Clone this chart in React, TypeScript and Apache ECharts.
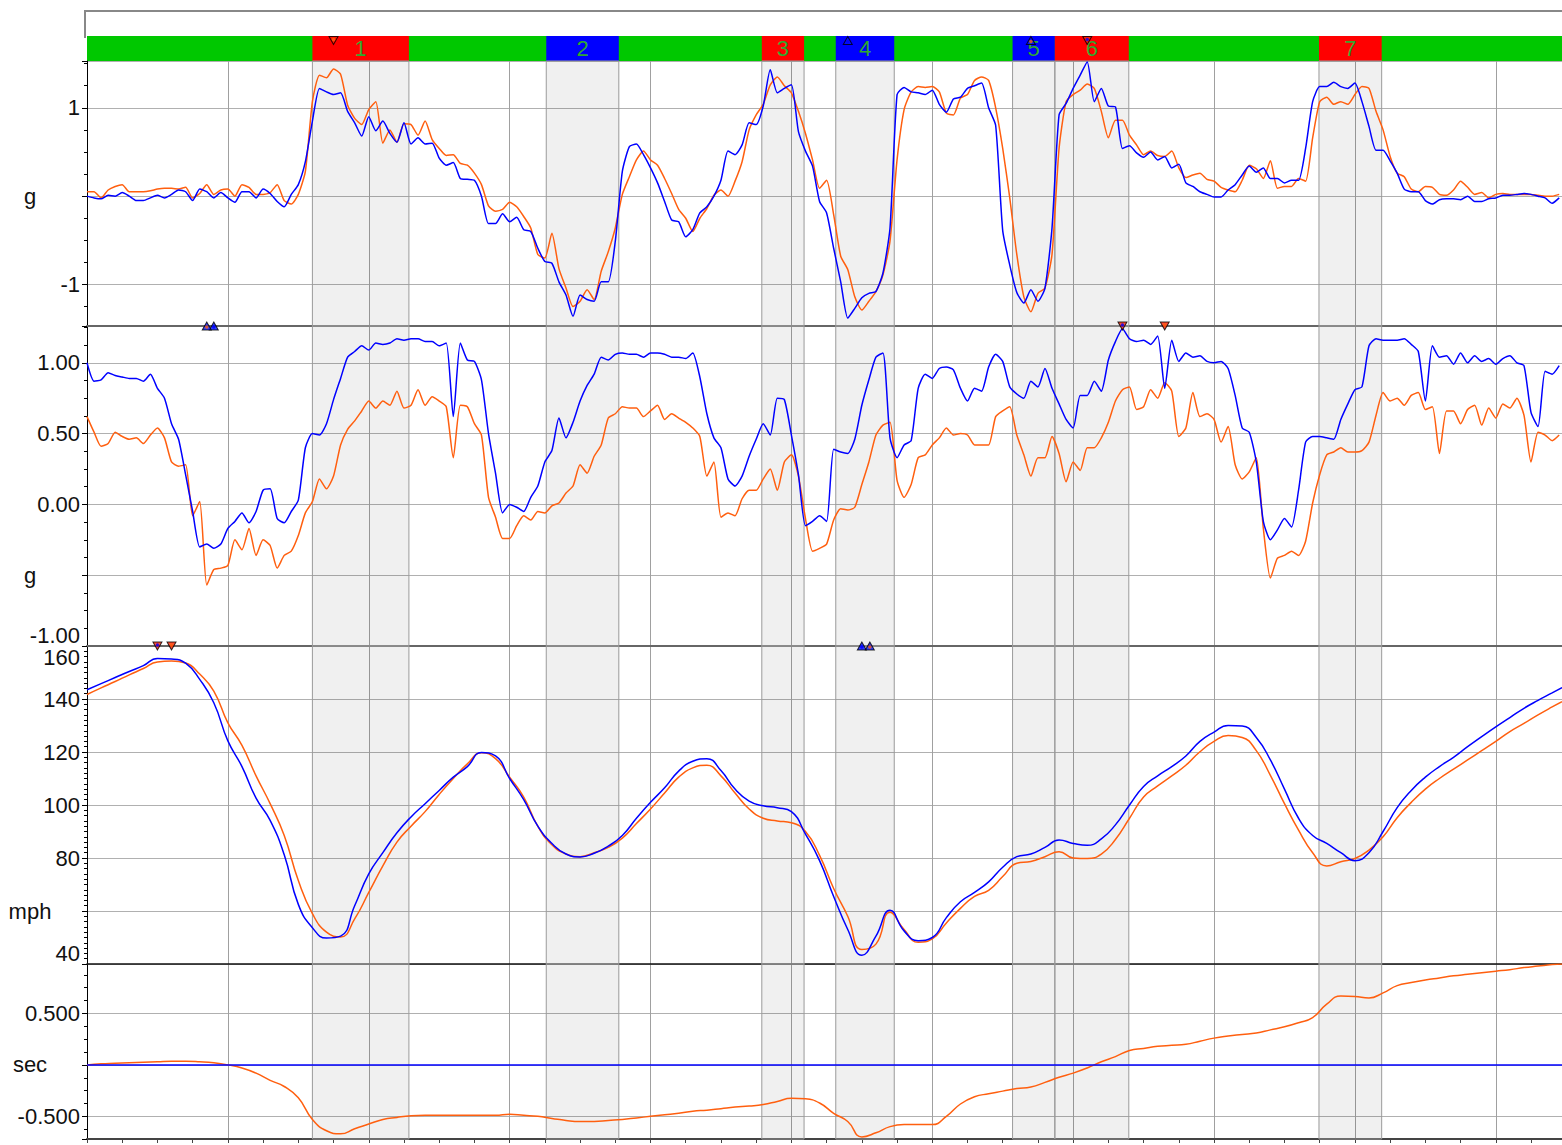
import React, { useEffect, useRef } from "react";
import * as echarts from "echarts";

// ---------- distances (m) ----------
const TRACK_LENGTH = 1047;
const DIST_FINE: number[] = Array.from({ length: 210 }, (_, i) => i * 5);
const DIST_COARSE: number[] = [...Array.from({ length: 105 }, (_, i) => i * 10), 1047];

// ---------- segment bar ----------
const SEGMENT_LABELS = ["1", "2", "3", "4", "5", "6", "7"];
const SEGMENT_START = [160, 326, 479, 531.5, 657, 687, 874.5];
const SEGMENT_END = [228.5, 377.5, 509, 573, 687, 739.5, 919];
const SEGMENT_KIND = ["brake", "corner", "brake", "corner", "corner", "brake", "brake"];

// ---------- panel 1: lateral g ----------
const LAT_G_BLUE = [
  0.00, -0.02, -0.03, 0.01, 0.00, 0.04, 0.00, -0.05, -0.05, -0.02,
  0.01, -0.02, 0.02, 0.07, 0.05, -0.05, 0.08, 0.05, -0.02, 0.04,
  -0.02, -0.07, 0.05, 0.05, -0.02, 0.08, 0.03, -0.06, -0.12, 0.02,
  0.13, 0.39, 0.85, 1.22, 1.18, 1.15, 1.17, 0.96, 0.83, 0.68,
  0.90, 0.74, 0.85, 0.71, 0.61, 0.83, 0.59, 0.66, 0.59, 0.60,
  0.43, 0.35, 0.38, 0.20, 0.19, 0.18, 0.00, -0.31, -0.31, -0.20,
  -0.29, -0.24, -0.38, -0.40, -0.59, -0.74, -0.76, -0.97, -1.12, -1.36,
  -1.12, -1.17, -1.19, -0.97, -0.97, -0.51, 0.28, 0.56, 0.59, 0.47,
  0.32, 0.15, -0.06, -0.27, -0.29, -0.46, -0.38, -0.19, -0.12, 0.00,
  0.18, 0.51, 0.47, 0.58, 0.83, 0.81, 1.02, 1.43, 1.17, 1.22,
  1.26, 0.73, 0.51, 0.34, -0.06, -0.19, -0.59, -0.97, -1.38, -1.27,
  -1.15, -1.10, -1.08, -0.87, -0.36, 1.15, 1.23, 1.18, 1.17, 1.15,
  1.20, 1.04, 0.95, 1.10, 1.12, 1.22, 1.25, 1.28, 1.00, 0.80,
  -0.39, -0.78, -1.09, -1.21, -1.06, -1.19, -1.04, -0.36, 0.92, 1.05,
  1.22, 1.37, 1.52, 1.07, 1.22, 1.02, 1.01, 0.54, 0.57, 0.49,
  0.44, 0.50, 0.41, 0.45, 0.32, 0.36, 0.15, 0.11, 0.05, 0.02,
  -0.01, -0.01, 0.07, 0.13, 0.24, 0.34, 0.27, 0.32, 0.20, 0.20,
  0.15, 0.18, 0.18, 0.54, 1.07, 1.24, 1.24, 1.29, 1.24, 1.22,
  1.28, 1.07, 0.79, 0.52, 0.52, 0.40, 0.26, 0.08, 0.05, 0.05,
  -0.05, -0.09, -0.04, -0.03, -0.03, -0.04, 0.00, -0.06, -0.06, -0.03,
  -0.02, 0.01, 0.01, 0.02, 0.03, 0.02, 0.00, -0.02, -0.08, -0.02,
];
const LAT_G_ORANGE = [
  0.05, 0.05, -0.02, 0.07, 0.11, 0.13, 0.05, 0.05, 0.05, 0.06,
  0.08, 0.09, 0.09, 0.08, 0.10, -0.02, 0.03, 0.13, 0.02, 0.07,
  0.08, 0.00, 0.13, 0.10, 0.02, 0.02, 0.04, 0.13, -0.05, -0.09,
  0.02, 0.28, 1.07, 1.37, 1.34, 1.44, 1.38, 1.03, 0.88, 0.81,
  0.98, 1.07, 0.60, 0.75, 0.61, 0.82, 0.81, 0.69, 0.85, 0.64,
  0.54, 0.46, 0.47, 0.37, 0.35, 0.26, 0.13, -0.11, -0.17, -0.15,
  -0.07, -0.12, -0.23, -0.36, -0.66, -0.70, -0.42, -0.82, -1.04, -1.25,
  -1.19, -1.06, -1.17, -0.85, -0.63, -0.36, 0.02, 0.22, 0.41, 0.51,
  0.41, 0.35, 0.20, 0.03, -0.15, -0.25, -0.40, -0.25, -0.14, 0.01,
  0.07, 0.00, 0.17, 0.39, 0.75, 0.92, 1.04, 1.26, 1.35, 1.25,
  1.17, 0.96, 0.71, 0.41, 0.09, 0.18, -0.21, -0.68, -0.83, -1.14,
  -1.29, -1.19, -1.08, -0.89, -0.51, 0.41, 0.98, 1.18, 1.24, 1.23,
  1.24, 1.18, 0.94, 0.92, 1.11, 1.15, 1.31, 1.35, 1.31, 1.00,
  0.54, -0.02, -0.66, -1.14, -1.31, -1.10, -1.04, -0.66, 0.54, 1.07,
  1.15, 1.20, 1.27, 1.22, 0.96, 0.66, 0.86, 0.86, 0.69, 0.58,
  0.47, 0.51, 0.46, 0.45, 0.51, 0.32, 0.21, 0.24, 0.26, 0.19,
  0.17, 0.10, 0.07, 0.05, 0.18, 0.35, 0.31, 0.20, 0.40, 0.09,
  0.11, 0.11, 0.20, 0.17, 0.66, 1.07, 1.12, 1.04, 1.07, 1.04,
  1.15, 1.24, 1.22, 0.96, 0.75, 0.45, 0.26, 0.22, 0.08, 0.05,
  0.11, 0.10, 0.02, 0.01, 0.07, 0.17, 0.10, 0.02, 0.04, -0.02,
  0.02, 0.03, 0.02, 0.02, 0.02, 0.02, 0.01, 0.00, 0.00, 0.02,
];

// ---------- panel 2: longitudinal g ----------
const LONG_G_BLUE = [
  1.00, 0.87, 0.88, 0.93, 0.91, 0.90, 0.89, 0.89, 0.87, 0.92,
  0.82, 0.75, 0.57, 0.46, 0.21, -0.05, -0.30, -0.28, -0.31, -0.28,
  -0.17, -0.12, -0.06, -0.13, -0.05, 0.10, 0.11, -0.10, -0.13, -0.05,
  0.03, 0.40, 0.50, 0.49, 0.57, 0.74, 0.89, 1.04, 1.08, 1.12,
  1.09, 1.14, 1.13, 1.14, 1.17, 1.16, 1.17, 1.17, 1.15, 1.15,
  1.12, 1.14, 0.62, 1.14, 1.02, 1.01, 0.88, 0.50, 0.22, -0.06,
  0.00, -0.02, -0.05, 0.05, 0.13, 0.30, 0.38, 0.61, 0.47, 0.58,
  0.73, 0.84, 0.92, 1.04, 1.02, 1.06, 1.07, 1.06, 1.06, 1.04,
  1.07, 1.07, 1.06, 1.04, 1.04, 1.03, 1.07, 0.90, 0.64, 0.47,
  0.40, 0.18, 0.13, 0.20, 0.34, 0.46, 0.57, 0.49, 0.75, 0.74,
  0.49, 0.21, -0.15, -0.12, -0.08, -0.12, 0.39, 0.37, 0.36, 0.46,
  0.70, 0.88, 1.04, 1.07, 0.47, 0.33, 0.42, 0.45, 0.82, 0.92,
  0.89, 0.96, 0.97, 0.95, 0.82, 0.73, 0.82, 0.80, 0.97, 1.06,
  1.01, 0.83, 0.78, 0.75, 0.87, 0.83, 0.96, 0.82, 0.71, 0.60,
  0.54, 0.77, 0.77, 0.87, 0.80, 1.02, 1.15, 1.24, 1.17, 1.15,
  1.16, 1.13, 1.19, 0.82, 1.16, 1.01, 1.07, 1.04, 1.05, 1.01,
  1.00, 1.01, 0.96, 0.77, 0.54, 0.51, 0.30, -0.12, -0.25, -0.18,
  -0.10, -0.16, 0.10, 0.44, 0.48, 0.48, 0.47, 0.46, 0.60, 0.71,
  0.81, 0.83, 1.12, 1.17, 1.16, 1.16, 1.16, 1.17, 1.13, 1.08,
  0.73, 1.12, 1.04, 1.05, 0.99, 1.07, 1.00, 1.05, 1.01, 1.03,
  0.99, 1.03, 1.05, 1.00, 0.98, 0.65, 0.55, 0.94, 0.92, 0.98,
];
const LONG_G_ORANGE = [
  0.62, 0.51, 0.41, 0.43, 0.51, 0.48, 0.46, 0.47, 0.43, 0.49,
  0.54, 0.47, 0.30, 0.27, 0.28, -0.08, 0.02, -0.57, -0.46, -0.45,
  -0.43, -0.25, -0.32, -0.17, -0.36, -0.25, -0.29, -0.45, -0.36, -0.33,
  -0.22, -0.06, 0.02, 0.18, 0.11, 0.20, 0.42, 0.53, 0.59, 0.66,
  0.73, 0.68, 0.73, 0.70, 0.80, 0.68, 0.70, 0.81, 0.70, 0.76,
  0.73, 0.69, 0.33, 0.70, 0.69, 0.57, 0.49, 0.05, -0.09, -0.24,
  -0.24, -0.15, -0.08, -0.11, -0.05, -0.06, -0.01, 0.01, 0.08, 0.13,
  0.28, 0.22, 0.34, 0.42, 0.61, 0.64, 0.69, 0.68, 0.68, 0.62,
  0.66, 0.70, 0.60, 0.64, 0.61, 0.58, 0.54, 0.48, 0.20, 0.30,
  -0.09, -0.06, -0.08, 0.04, 0.10, 0.10, 0.18, 0.25, 0.10, 0.30,
  0.35, 0.20, -0.10, -0.33, -0.31, -0.28, -0.11, -0.03, -0.04, -0.02,
  0.14, 0.30, 0.49, 0.56, 0.58, 0.17, 0.05, 0.14, 0.33, 0.35,
  0.42, 0.47, 0.54, 0.49, 0.50, 0.49, 0.42, 0.42, 0.42, 0.62,
  0.66, 0.69, 0.49, 0.35, 0.20, 0.33, 0.33, 0.48, 0.36, 0.16,
  0.30, 0.24, 0.40, 0.40, 0.47, 0.58, 0.73, 0.81, 0.83, 0.67,
  0.69, 0.81, 0.75, 0.86, 0.80, 0.48, 0.54, 0.79, 0.62, 0.64,
  0.60, 0.44, 0.55, 0.28, 0.18, 0.23, 0.33, -0.17, -0.52, -0.38,
  -0.36, -0.33, -0.36, -0.26, 0.01, 0.21, 0.35, 0.37, 0.40, 0.37,
  0.37, 0.38, 0.44, 0.63, 0.79, 0.73, 0.75, 0.70, 0.77, 0.79,
  0.67, 0.69, 0.36, 0.66, 0.66, 0.57, 0.67, 0.70, 0.56, 0.68,
  0.61, 0.71, 0.68, 0.75, 0.63, 0.30, 0.51, 0.49, 0.45, 0.49,
];

// ---------- panel 3: speed (mph) ----------
const SPEED_BLUE = [
  143.5, 145.8, 148.1, 150.4, 152.6, 155.3, 155.1, 153.5, 147.4, 138.6,
  124.2, 114.5, 102.6, 94.2, 81.2, 62.5, 53.7, 49.8, 50.5, 62.0,
  74.0, 82.0, 89.5, 95.5, 100.5, 105.5, 110.5, 114.5, 119.8, 118.5,
  110.0, 102.0, 92.0, 85.5, 81.5, 80.4, 81.8, 84.5, 88.5, 95.0,
  101.0, 106.5, 112.8, 116.5, 117.5, 113.0, 106.0, 101.5, 99.7, 99.0,
  97.5, 89.0, 79.0, 65.5, 53.0, 43.3, 50.5, 60.3, 52.5, 48.8,
  50.0, 57.5, 63.5, 67.0, 71.0, 76.5, 80.5, 81.5, 84.0, 86.8,
  85.5, 84.8, 87.2, 92.5, 100.0, 107.0, 111.0, 114.5, 118.5, 124.0,
  127.5, 130.0, 129.8, 125.5, 117.0, 106.0, 95.0, 88.5, 85.5, 82.0,
  79.0, 82.0, 90.0, 99.0, 105.5, 110.5, 114.5, 118.0, 122.0, 125.8,
  129.5, 133.0, 136.5, 139.5, 142.3, 144.3,
];
const SPEED_ORANGE = [
  141.7, 144.2, 146.6, 149.1, 151.5, 154.0, 154.3, 153.6, 149.4, 143.0,
  131.0, 122.5, 111.0, 100.5, 88.5, 71.5, 59.0, 52.0, 50.2, 57.0,
  67.0, 77.0, 86.0, 92.0, 97.5, 104.0, 110.0, 115.5, 119.7, 117.5,
  110.5, 103.0, 92.0, 85.0, 81.5, 80.5, 82.0, 84.0, 87.5, 93.0,
  98.5, 104.5, 110.5, 114.0, 115.0, 111.0, 104.5, 98.5, 95.0, 94.0,
  93.3, 90.0, 81.0, 68.5, 58.0, 45.5, 47.5, 59.5, 53.0, 48.2,
  49.5, 55.5, 61.0, 65.5, 67.8, 73.0, 78.0, 78.7, 80.5, 82.4,
  80.0, 79.8, 81.5, 87.0, 95.0, 103.0, 107.2, 111.0, 115.0, 120.1,
  124.0, 126.2, 125.5, 120.5, 111.2, 100.5, 90.5, 82.0, 77.0, 78.6,
  79.8, 83.0, 88.0, 95.2, 101.0, 106.0, 110.0, 113.5, 117.0, 120.5,
  124.0, 127.7, 130.8, 134.0, 137.0, 139.0,
];

// ---------- panel 4: time delta (sec) ----------
const DELTA_BLUE_DIST = [0, 1047];
const DELTA_BLUE = [0, 0];
const DELTA_ORANGE = [
  0.00, 0.01, 0.015, 0.02, 0.025, 0.03, 0.035, 0.035, 0.03, 0.02,
  0.00, -0.03, -0.08, -0.15, -0.21, -0.32, -0.53, -0.64, -0.67, -0.62,
  -0.575, -0.53, -0.51, -0.495, -0.49, -0.49, -0.49, -0.49, -0.49, -0.49,
  -0.48, -0.49, -0.50, -0.52, -0.54, -0.55, -0.55, -0.54, -0.53, -0.515,
  -0.50, -0.485, -0.47, -0.45, -0.44, -0.425, -0.41, -0.40, -0.385, -0.355,
  -0.325, -0.33, -0.37, -0.47, -0.55, -0.70, -0.66, -0.60, -0.58, -0.58,
  -0.58, -0.50, -0.38, -0.31, -0.28, -0.255, -0.23, -0.215, -0.17, -0.12,
  -0.08, -0.03, 0.03, 0.08, 0.14, 0.16, 0.18, 0.19, 0.20, 0.23,
  0.26, 0.28, 0.295, 0.31, 0.34, 0.37, 0.41, 0.46, 0.59, 0.67,
  0.665, 0.65, 0.70, 0.77, 0.80, 0.825, 0.845, 0.865, 0.88, 0.895,
  0.91, 0.925, 0.945, 0.96, 0.975, 0.98,
];

// ---------- styling ----------
const BLUE = "#0000ff";
const ORANGE = "#ff5f0f";
const FONT = "'Liberation Sans', Arial, Helvetica, sans-serif";
const LABEL_SIZE = 22;

const zip = (xs: number[], ys: number[]) => ys.map((y, i) => [xs[i], y]);

function argExt(arr: number[], dir: number) {
  let idx = 0;
  for (let i = 1; i < arr.length; i++) {
    if (dir > 0 ? arr[i] > arr[idx] : arr[i] < arr[idx]) idx = i;
  }
  return idx;
}

function makeYAxis(
  gridIndex: number, min: number, max: number, step: number, minorSplit: number,
  digits: number, unitValue: number, unit: string, extraLabel: any = {}
) {
  return {
    type: "value", gridIndex, min, max,
    minInterval: step, maxInterval: step, splitNumber: Math.max(1, Math.round((max - min) / step)),
    axisLine: { show: true, onZero: false, lineStyle: { color: "#000", width: 1 } },
    axisTick: { show: true, length: 5, lineStyle: { color: "#000" } },
    minorTick: { show: true, splitNumber: minorSplit, length: 3, lineStyle: { color: "#000" } },
    splitLine: { show: true, lineStyle: { color: "#b0b0b0", width: 1 } },
    axisLabel: {
      show: true, margin: 7, color: "#111", fontSize: LABEL_SIZE, fontFamily: FONT,
      formatter: (v: number) => {
        if (Math.abs(v - unitValue) < 1e-9) return `{u|${unit}}`;
        const r = v / step;
        if (Math.abs(r - Math.round(r)) > 1e-6) return "";
        return v.toFixed(digits);
      },
      rich: { u: { width: 100, align: "center", fontSize: LABEL_SIZE, fontFamily: FONT, color: "#111" } },
      ...extraLabel,
    },
  };
}

function makeXAxis(gridIndex: number, lineColor: string, lineWidth: number, ticks: boolean, show = true) {
  return {
    type: "value", gridIndex, min: 0, max: TRACK_LENGTH, interval: 100, show,
    axisLine: { show: true, onZero: false, lineStyle: { color: lineColor, width: lineWidth } },
    axisTick: { show: ticks, length: 4, lineStyle: { color: "#444" } },
    minorTick: { show: ticks, splitNumber: 4, length: 4, lineStyle: { color: "#444" } },
    axisLabel: { show: false },
    splitLine: { show: true, lineStyle: { color: "#a0a0a0", width: 1 } },
  };
}

const shadeAreas = SEGMENT_START.map((s, i) => [{ xAxis: s }, { xAxis: SEGMENT_END[i] }]);

const shadeMarkArea = {
  silent: true,
  itemStyle: { color: "rgba(0,0,0,0.06)", borderColor: "#9a9a9a", borderWidth: 1 },
  label: { show: false },
  data: shadeAreas,
};

const barMarkArea = {
  silent: true,
  data: SEGMENT_START.map((s, i) => [
    {
      name: SEGMENT_LABELS[i], xAxis: s,
      itemStyle: { color: SEGMENT_KIND[i] === "brake" ? "#ff0000" : "#0000ff", borderWidth: 0 },
      label: { show: true, position: "inside", color: "#2fa82f", fontSize: 22, fontFamily: FONT },
    },
    { xAxis: SEGMENT_END[i] },
  ]),
};

type Marker = { x: number; max: boolean; color: string; dx: number };

function markerPair(dist: number[], blue: number[], orange: number[], dir: number): Marker[] {
  const xb = dist[argExt(blue, dir)];
  const xo = dist[argExt(orange, dir)];
  const same = xb === xo;
  return [
    { x: xb, max: dir > 0, color: BLUE, dx: 0 },
    { x: xo, max: dir > 0, color: ORANGE, dx: same ? 8 : 0 },
  ];
}

function markerSeries(xi: number, yi: number, yTop: number, marks: Marker[], offY: number) {
  return [
    {
      type: "scatter", xAxisIndex: xi, yAxisIndex: yi, z: 10, clip: false, silent: true,
      data: marks.map((m) => ({
        value: [m.x, yTop], symbol: "triangle", symbolRotate: m.max ? 180 : 0,
        symbolSize: [9, 8], symbolOffset: [m.dx, offY],
        itemStyle: { color: m.max ? "#ff2000" : "#0010ff", borderColor: "#000", borderWidth: 1 },
      })),
    },
    {
      type: "scatter", xAxisIndex: xi, yAxisIndex: yi, z: 11, clip: false, silent: true,
      data: marks.map((m) => ({
        value: [m.x, yTop], symbol: "circle", symbolSize: 3.5,
        symbolOffset: [m.dx, offY + (m.max ? -1 : 1)],
        itemStyle: { color: m.color },
      })),
    },
  ];
}

const P1 = [-1.47, 1.53];
const P2 = [-1, 1.26];
const P3 = [40, 160];
const P4 = [-0.72, 0.98];

function lineSeries(xi: number, data: number[][], color: string, smooth: number, extra: any = {}) {
  return {
    type: "line", xAxisIndex: xi, yAxisIndex: xi, data, showSymbol: false, symbol: "none",
    smooth,
    lineStyle: { color, width: 1.5 }, itemStyle: { color }, z: 3, silent: true, ...extra,
  };
}

export default function App() {
  const ref = useRef<HTMLDivElement>(null);
  useEffect(() => {
    if (!ref.current) return;
    const chart = echarts.init(ref.current, null, { renderer: "svg" });

    const m1 = [
      ...markerPair(DIST_FINE, LAT_G_BLUE, LAT_G_ORANGE, 1),
      ...markerPair(DIST_FINE, LAT_G_BLUE, LAT_G_ORANGE, -1),
    ];
    const m2 = [
      ...markerPair(DIST_FINE, LONG_G_BLUE, LONG_G_ORANGE, 1),
      ...markerPair(DIST_FINE, LONG_G_BLUE, LONG_G_ORANGE, -1),
    ];
    const m3 = [
      ...markerPair(DIST_COARSE, SPEED_BLUE, SPEED_ORANGE, 1),
      ...markerPair(DIST_COARSE, SPEED_BLUE, SPEED_ORANGE, -1),
    ];

    const option: any = {
      animation: false,
      backgroundColor: "#ffffff",
      textStyle: { fontFamily: FONT },
      grid: [
        { left: 87, right: 0, top: 36, height: 25, show: true, backgroundColor: "#00c800", borderWidth: 0 },
        { left: 87, right: 0, top: 61, height: 265 },
        { left: 87, right: 0, top: 326, height: 320 },
        { left: 87, right: 0, top: 646, height: 318 },
        { left: 87, right: 0, top: 964, height: 175 },
      ],
      xAxis: [
        makeXAxis(0, "#000", 0, false, false),
        makeXAxis(1, "#666", 2, false),
        makeXAxis(2, "#666", 2, false),
        makeXAxis(3, "#111", 1.5, false),
        makeXAxis(4, "#444", 2, true),
      ],
      yAxis: [
        { type: "value", gridIndex: 0, min: 0, max: 1, show: false },
        makeYAxis(1, P1[0], P1[1], 1, 4, 0, 0, "g"),
        makeYAxis(2, P2[0], P2[1], 0.5, 4, 2, -0.5, "g", { verticalAlignMinLabel: "bottom", showMinLabel: true }),
        makeYAxis(3, P3[0], P3[1], 20, 10, 0, 60, "mph", {
          verticalAlignMinLabel: "bottom", verticalAlignMaxLabel: "top", showMinLabel: true, showMaxLabel: true,
        }),
        makeYAxis(4, P4[0], P4[1], 0.5, 4, 3, 0, "sec"),
      ],
      graphic: [
        {
          type: "polyline", silent: true, z: 5,
          shape: { points: [[85, 38], [85, 11], [1562, 11]] },
          style: { stroke: "#888", lineWidth: 2, fill: null },
        },
      ],
      series: [
        { type: "line", xAxisIndex: 0, yAxisIndex: 0, data: [[0, 0]], showSymbol: false, symbol: "none", lineStyle: { width: 0 }, markArea: barMarkArea },
        lineSeries(1, zip(DIST_FINE, LAT_G_ORANGE), ORANGE, 0.2, { markArea: shadeMarkArea }),
        lineSeries(1, zip(DIST_FINE, LAT_G_BLUE), BLUE, 0.2),
        lineSeries(2, zip(DIST_FINE, LONG_G_ORANGE), ORANGE, 0.2, { markArea: shadeMarkArea }),
        lineSeries(2, zip(DIST_FINE, LONG_G_BLUE), BLUE, 0.2),
        lineSeries(3, zip(DIST_COARSE, SPEED_ORANGE), ORANGE, 0.5, { markArea: shadeMarkArea }),
        lineSeries(3, zip(DIST_COARSE, SPEED_BLUE), BLUE, 0.5),
        lineSeries(4, zip(DIST_COARSE, DELTA_ORANGE), ORANGE, 0.5, { markArea: shadeMarkArea }),
        lineSeries(4, zip(DELTA_BLUE_DIST, DELTA_BLUE), BLUE, 0),
        ...markerSeries(0, 0, 1, m1, 4.5),
        ...markerSeries(2, 2, P2[1], m2, 0),
        ...markerSeries(3, 3, P3[1], m3, 0),
      ],
    };
    chart.setOption(option);
    return () => chart.dispose();
  }, []);
  return <div ref={ref} style={{ position: "absolute", left: 0, top: 0, width: 1562, height: 1145 }} />;
}
